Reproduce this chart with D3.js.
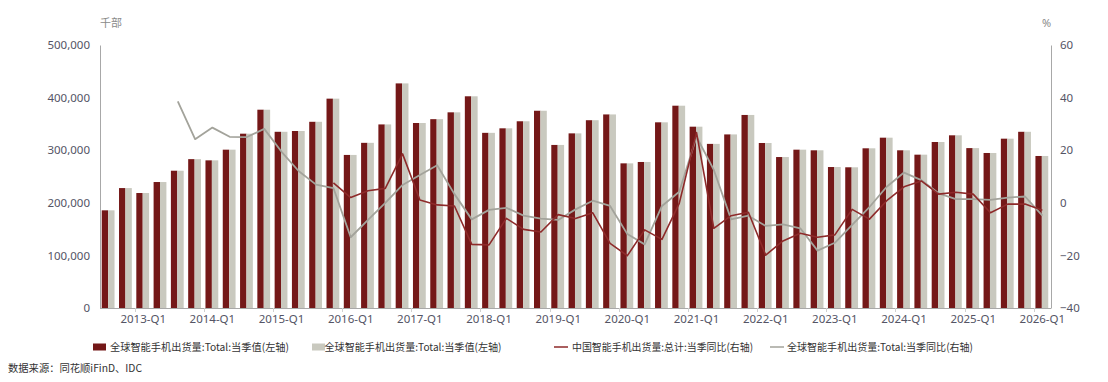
<!DOCTYPE html>
<html>
<head>
<meta charset="utf-8">
<script src="https://cdn.jsdelivr.net/npm/d3@7/dist/d3.min.js"></script>
<style>
  html, body { margin: 0; padding: 0; background: #ffffff; }
  svg { display: block; }
  text { font-family: "Noto Sans CJK SC", "Noto Sans", sans-serif; }
</style>
</head>
<body>
<svg id="chart" width="1108" height="382"></svg>
<script>
const categories = [
  "2012-Q3","2012-Q4",
  "2013-Q1","2013-Q2","2013-Q3","2013-Q4",
  "2014-Q1","2014-Q2","2014-Q3","2014-Q4",
  "2015-Q1","2015-Q2","2015-Q3","2015-Q4",
  "2016-Q1","2016-Q2","2016-Q3","2016-Q4",
  "2017-Q1","2017-Q2","2017-Q3","2017-Q4",
  "2018-Q1","2018-Q2","2018-Q3","2018-Q4",
  "2019-Q1","2019-Q2","2019-Q3","2019-Q4",
  "2020-Q1","2020-Q2","2020-Q3","2020-Q4",
  "2021-Q1","2021-Q2","2021-Q3","2021-Q4",
  "2022-Q1","2022-Q2","2022-Q3","2022-Q4",
  "2023-Q1","2023-Q2","2023-Q3","2023-Q4",
  "2024-Q1","2024-Q2","2024-Q3","2024-Q4",
  "2025-Q1","2025-Q2","2025-Q3","2025-Q4",
  "2026-Q1"
];

// 全球智能手机出货量:Total:当季值 (千部)
const globalShipments = [
  185700, 228000, 218600, 239500, 261000, 283000, 280700, 301000, 331400, 377000,
  335000, 336500, 354000, 398000, 291000, 314000, 349000, 427000, 351700, 359000,
  372000, 402500, 333000, 341600, 355000, 375000, 310000, 332000, 357000, 368000,
  275000, 277600, 353000, 384600, 344700, 312000, 330000, 367000, 313700, 287000,
  301000, 299800, 268000, 267500, 303600, 323800, 299800, 291500, 315600, 328300,
  304000, 294700, 321900, 335000, 289000
];
// second bar series (same series in the source legend)
const globalShipments2 = globalShipments.slice();

// 中国智能手机出货量:总计:当季同比 (%)
const chinaYoY = [
  null, null, null, null, null, null, null, null, null, null,
  null, null, null, 7.6, 2.0, 4.6, 5.5, 18.6, 1.1, -0.8,
  -1.2, -15.8, -16.0, -5.9, -10.1, -11.1, -4.5, -6.0, -3.8, -15.4,
  -20.1, -10.3, -13.9, -0.2, 26.7, -9.7, -4.9, -3.6, -19.9, -14.5,
  -11.6, -13.1, -12.2, -2.5, -6.2, 0.8, 6.1, 8.3, 3.3, 4.0,
  3.3, -3.8, -0.5, -0.5, -2.8
];

// 全球智能手机出货量:Total:当季同比 (%)
const globalYoY = [
  null, null, null, null, 38.6, 24.2, 28.6, 25.1, 25.0, 28.1,
  19.4, 12.0, 6.9, 5.6, -13.1, -6.5, 0.0, 6.8, 10.6, 14.3,
  3.3, -6.3, -2.7, -1.9, -4.9, -6.0, -6.5, -2.5, 0.8, -1.2,
  -11.9, -15.8, -1.2, 4.2, 25.1, 12.5, -6.3, -4.9, -8.8, -8.2,
  -9.7, -18.2, -15.2, -8.4, -1.6, 6.1, 11.5, 8.6, 3.6, 1.4,
  1.4, 1.1, 2.0, 2.4, -4.9
];

const leftTicks = [0, 100000, 200000, 300000, 400000, 500000];
const rightTicks = [-40, -20, 0, 20, 40, 60];

const legendLabels = [
  "全球智能手机出货量:Total:当季值(左轴)",
  "全球智能手机出货量:Total:当季值(左轴)",
  "中国智能手机出货量:总计:当季同比(右轴)",
  "全球智能手机出货量:Total:当季同比(右轴)"
];
const leftUnit = "千部";
const rightUnit = "%";
const sourceText = "数据来源：同花顺iFinD、IDC";

const C_DARK = "#741818";
const C_GRAYBAR = "#c9c9bf";
const C_REDLINE = "#8e2a2a";
const C_GRAYLINE = "#a3a39b";
const C_AXIS = "#a8a8a8";
const C_TEXT = "#545465";

const svg = d3.select("#chart");
const X0 = 100, X1 = 1051, Y0 = 308, Y1 = 45;

const x = d3.scaleBand().domain(categories).range([X0, X1]).paddingInner(0).paddingOuter(0);
const bw = x.bandwidth();
const xs = d3.scaleBand().domain(["a", "b"]).range([bw * 0.1, bw * 0.84]).padding(0);
const yL = d3.scaleLinear().domain([0, 500000]).range([Y0, Y1]);
const yR = d3.scaleLinear().domain([-40, 60]).range([Y0, Y1]);

// bars
const gBars = svg.append("g");
gBars.selectAll("rect.a").data(categories).join("rect")
  .attr("class", "a")
  .attr("x", (d) => x(d) + xs("a"))
  .attr("width", xs.bandwidth())
  .attr("y", (d, i) => yL(globalShipments[i]))
  .attr("height", (d, i) => Y0 - yL(globalShipments[i]))
  .attr("fill", C_DARK);
gBars.selectAll("rect.b").data(categories).join("rect")
  .attr("class", "b")
  .attr("x", (d) => x(d) + xs("b"))
  .attr("width", xs.bandwidth())
  .attr("y", (d, i) => yL(globalShipments2[i]))
  .attr("height", (d, i) => Y0 - yL(globalShipments2[i]))
  .attr("fill", C_GRAYBAR);

// lines
const lineGen = (arr) => d3.line()
  .defined((d, i) => arr[i] !== null)
  .x((d) => x(d) + bw / 2)
  .y((d, i) => yR(arr[i]));

svg.append("path").datum(categories)
  .attr("d", lineGen(globalYoY))
  .attr("fill", "none").attr("stroke", C_GRAYLINE).attr("stroke-width", 1.8)
  .attr("stroke-linejoin", "round");
svg.append("path").datum(categories)
  .attr("d", lineGen(chinaYoY))
  .attr("fill", "none").attr("stroke", C_REDLINE).attr("stroke-width", 1.6)
  .attr("stroke-linejoin", "round");

// left axis
const axL = svg.append("g").attr("transform", `translate(${X0},0)`)
  .call(d3.axisLeft(yL).tickValues(leftTicks).tickSize(0).tickPadding(10).tickFormat(d3.format(",")));
axL.select(".domain").attr("stroke", C_AXIS).attr("stroke-width", 1);
axL.selectAll("text").attr("fill", C_TEXT).style("font-size", "11.5px")
  .style("font-family", "'Noto Sans', sans-serif");

// right axis
const axR = svg.append("g").attr("transform", `translate(${X1},0)`)
  .call(d3.axisRight(yR).tickValues(rightTicks).tickSize(0).tickPadding(9));
axR.select(".domain").attr("stroke", C_AXIS).attr("stroke-width", 1);
axR.selectAll("text").attr("fill", C_TEXT).style("font-size", "11.5px")
  .style("font-family", "'Noto Sans', sans-serif");

// bottom axis
const q1 = categories.filter((c) => c.endsWith("Q1"));
const axB = svg.append("g");
axB.append("line").attr("x1", X0).attr("x2", X1).attr("y1", Y0 + 0.5).attr("y2", Y0 + 0.5)
  .attr("stroke", C_AXIS);
axB.selectAll("line.tk").data(q1).join("line").attr("class", "tk")
  .attr("x1", (d) => Math.round(x(d)) + 0.5).attr("x2", (d) => Math.round(x(d)) + 0.5)
  .attr("y1", Y0).attr("y2", Y0 + 4).attr("stroke", "#d0d0d0");
axB.selectAll("text").data(q1).join("text")
  .attr("x", (d) => x(d) + bw / 2).attr("y", Y0 + 15)
  .attr("text-anchor", "middle").attr("fill", C_TEXT)
  .style("font-size", "11.5px").style("font-family", "'Noto Sans', sans-serif")
  .text((d) => d);

// units
svg.append("text").attr("x", X0).attr("y", 27).attr("fill", "#8a8a8a")
  .style("font-size", "11px").text(leftUnit);
svg.append("text").attr("x", 1042).attr("y", 27).attr("fill", "#8a8a8a")
  .style("font-size", "11px").style("font-family", "'Noto Sans', sans-serif").text(rightUnit);

// legend
const legY = 347;
const legItems = [
  { type: "rect", color: C_DARK, mx: 93, tx: 110, w: 179 },
  { type: "rect", color: C_GRAYBAR, mx: 312, tx: 324.5, w: 177 },
  { type: "line", color: C_REDLINE, mx: 554, tx: 572, w: 181 },
  { type: "line", color: C_GRAYLINE, mx: 770, tx: 787, w: 186 }
];
const gLeg = svg.append("g");
legItems.forEach((it, i) => {
  if (it.type === "rect") {
    gLeg.append("rect").attr("x", it.mx).attr("y", legY - 3.5).attr("width", 13).attr("height", 7)
      .attr("fill", it.color);
  } else {
    gLeg.append("line").attr("x1", it.mx).attr("x2", it.mx + 14).attr("y1", legY).attr("y2", legY)
      .attr("stroke", it.color).attr("stroke-width", 1.5);
  }
  gLeg.append("text").attr("x", it.tx).attr("y", legY + 4).attr("fill", "#333")
    .style("font-size", "10.5px")
    .attr("textLength", it.w).attr("lengthAdjust", "spacingAndGlyphs")
    .text(legendLabels[i]);
});

// source
svg.append("text").attr("x", 8).attr("y", 372).attr("fill", "#333")
  .style("font-size", "10.5px")
  .attr("textLength", 134).attr("lengthAdjust", "spacingAndGlyphs")
  .text(sourceText);
</script>
</body>
</html>
